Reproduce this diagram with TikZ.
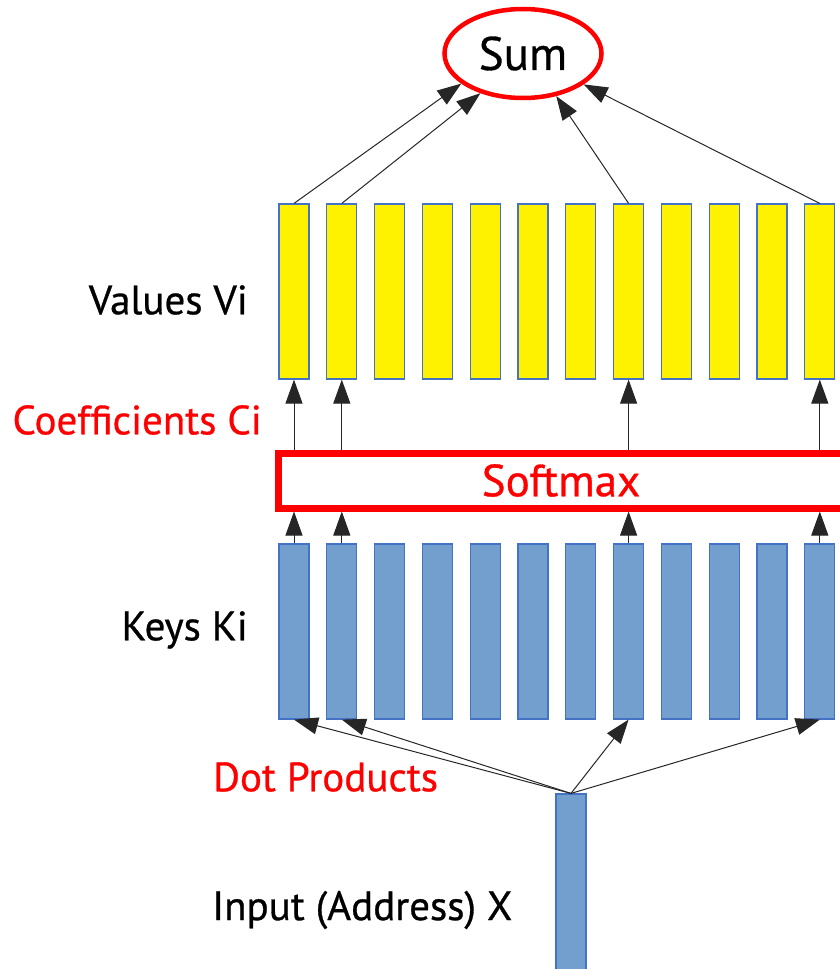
\documentclass[tikz,border=0pt]{standalone}
\usepackage{fontspec}
\setmainfont{PT Sans}[FakeBold=0.7]
\usetikzlibrary{arrows.meta}
\usetikzlibrary{shapes.geometric}

\definecolor{keyblue}{RGB}{114,159,206}
\definecolor{barline}{RGB}{68,114,196}

\tikzset{
  valbar/.style={draw=barline, fill=yellow, line width=1.2pt, inner sep=0pt,
    minimum width=30pt, minimum height=175pt},
  keybar/.style={valbar, fill=keyblue},
  link/.style={draw=black!85, line width=1pt, -{Triangle[length=24pt, width=17pt]}},
  tag/.style={inner sep=0pt, font=\fontsize{41}{48}\selectfont},
}

\begin{document}
\begin{tikzpicture}[x=1pt, y=-1pt]

  \useasboundingbox (0, 0) rectangle (840, 969);
  \clip (0, 0) rectangle (840, 969);

  \foreach \i in {1, ..., 12} {
    \node[valbar] (v\i) at ({294 + 47.8*(\i - 1)}, 291.5) {};
    \node[keybar] (k\i) at ({294 + 47.8*(\i - 1)}, 631.5) {};
  }

  \node[draw=red, line width=7pt, minimum width=566pt, minimum height=55pt,
    tag, font=\fontsize{45}{50}\selectfont, text=red] (soft) at (561, 480.5) {Softmax};
  \node[ellipse, draw=red, line width=4.5pt, minimum width=157pt, minimum height=89pt,
    inner sep=0pt, font=\fontsize{47}{52}\selectfont] (sum) at (523, 53.5) {Sum};
  \node[keybar, minimum height=206pt] (x) at (571, 897) {};

  \node[tag, anchor=east] (vals) at (248, 300) {Values Vi};
  \node[tag, anchor=east, text=red] (coef) at (262, 420) {Coefficients Ci};
  \node[tag, anchor=east] (keys) at (248, 630) {Keys Ki};
  \node[tag, anchor=west, text=red] (dots) at (213, 777) {Dot Products};
  \node[tag, anchor=west] (addr) at (212, 910) {Input (Address) X};

  \foreach \i/\a in {1/206, 2/223, 8/308, 12/333} {
    \draw[link] (v\i.north) -- (sum.\a);
    \draw[link] (soft.north -| v\i) -- (v\i.south);
    \draw[link] (k\i.north) -- (k\i.north |- soft.south);
    \draw[link] (x.north) -- (k\i.south);
  }

\end{tikzpicture}
\end{document}
